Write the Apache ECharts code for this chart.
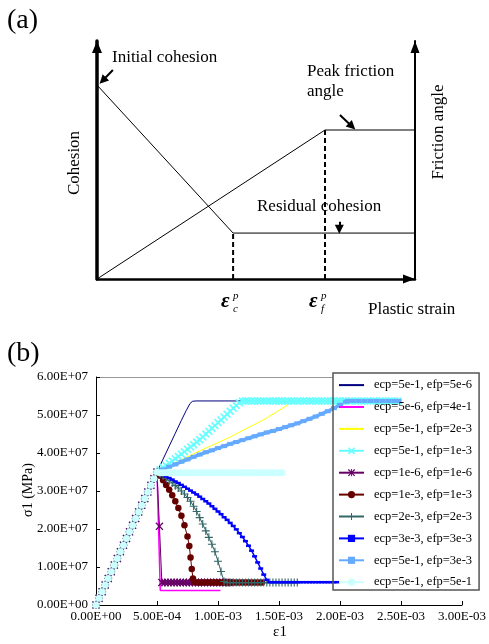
<!DOCTYPE html>
<html><head><meta charset="utf-8">
<script src="https://cdn.jsdelivr.net/npm/echarts/dist/echarts.min.js"></script>
<style>html,body{margin:0;padding:0;background:#fff}#c{width:489px;height:644px}</style>
</head><body><div id="c"></div>
<script>
// ---------- Panel (a): schematic (normalised units) ----------
const schemeCohesion = [[0,0.815],[0.428,0.193],[1,0.193]];
const schemeFriction = [[0,0],[0.717,0.626],[1,0.626]];
const schemeDashC = [[0.428,0],[0.428,0.193]];
const schemeDashF = [[0.717,0],[0.717,0.626]];
const schemeArrows = [[[0.05,0.878],[0.018,0.834]],[[0.764,0.689],[0.802,0.641]],[[0.762,0.241],[0.762,0.209]]];

// ---------- Panel (b): strain in 1e-3, stress in 1e7 ----------
const STRAIN_UNIT = 1e-3, STRESS_UNIT = 1e7;
const xTicks = {min:0, max:3, step:0.5};
const yTicks = {min:0, max:6, step:1};
const seriesNames = ['ecp=5e-1, efp=5e-6','ecp=5e-6, efp=4e-1','ecp=5e-1, efp=2e-3','ecp=5e-1, efp=1e-3','ecp=1e-6, efp=1e-6','ecp=1e-3, efp=1e-3','ecp=2e-3, efp=2e-3','ecp=3e-3, efp=3e-3','ecp=5e-1, efp=3e-3','ecp=5e-1, efp=5e-1'];
const elasticBranch = [[0,0],[0.025,0.175],[0.05,0.35],[0.075,0.525],[0.1,0.7],[0.125,0.875],[0.15,1.05],[0.175,1.225],[0.2,1.4],[0.225,1.575],[0.25,1.75],[0.275,1.925],[0.3,2.1],[0.325,2.275],[0.35,2.45],[0.375,2.625],[0.4,2.8],[0.425,2.975],[0.45,3.15],[0.475,3.325],[0.5,3.5]];
const PEAK = 5.37, RESIDUAL = 0.59, RESIDUAL_BLUE = 0.6, PLATEAU_510 = 3.48;

const s1Post = [[0.55,3.84],[0.6,4.18],[0.65,4.52],[0.7,4.86],[0.74,5.12],[0.77,5.3],[0.79,5.36],[0.82,5.37],[1.2,5.37]];
const s2Post = [[0.527,0.38],[1.02,0.38]];
const s3Post = [[0.8,3.98],[1.1,4.42],[1.4,4.92],[1.6,5.32],[1.65,5.37],[2.47,5.37]];
const s4Rise = [[0.525,3.56],[0.55,3.62],[0.575,3.67],[0.6,3.73],[0.625,3.79],[0.65,3.85],[0.675,3.91],[0.7,3.97],[0.725,4.03],[0.75,4.1],[0.775,4.16],[0.8,4.22],[0.825,4.29],[0.85,4.35],[0.875,4.42],[0.9,4.5],[0.925,4.57],[0.95,4.65],[0.975,4.72],[1.0,4.8],[1.025,4.87],[1.05,4.95],[1.075,5.02],[1.1,5.1],[1.125,5.18],[1.15,5.25],[1.175,5.32],[1.2,5.37]];
const s4PlateauStrain = [1.225,1.25,1.275,1.3,1.325,1.35,1.375,1.4,1.425,1.45,1.475,1.5,1.525,1.55,1.575,1.6,1.625,1.65,1.675,1.7,1.725,1.75,1.775,1.8,1.825,1.85,1.875,1.9,1.925,1.95,1.975,2.0,2.025,2.05,2.075,2.1,2.125,2.15,2.175,2.2,2.225,2.25,2.275,2.3,2.325,2.35,2.375,2.4,2.425,2.45,2.475];
const s5Drop = [[0.52,2.07],[0.54,0.59]];
const s5ResidualStrain = [0.565,0.59,0.615,0.64,0.665,0.69,0.715,0.74,0.765,0.79,0.815,0.84,0.865,0.89,0.915,0.94,0.965,0.99,1.015,1.04,1.065,1.09];
const s6Drop = [[0.525,3.4],[0.55,3.28],[0.575,3.16],[0.6,3.03],[0.625,2.89],[0.65,2.73],[0.675,2.55],[0.7,2.35],[0.725,2.1],[0.75,1.8],[0.765,1.55],[0.775,1.25],[0.785,0.95],[0.795,0.7],[0.81,0.6]];
const s6ResidualStrain = [0.835,0.86,0.885,0.91,0.935,0.96,0.985,1.01,1.035,1.06,1.085,1.11,1.135,1.16,1.185,1.21,1.235,1.26,1.285,1.31,1.335,1.36];
const s7Drop = [[0.525,3.45],[0.55,3.39],[0.575,3.33],[0.6,3.27],[0.625,3.21],[0.65,3.14],[0.675,3.08],[0.7,3.0],[0.725,2.92],[0.75,2.83],[0.775,2.73],[0.8,2.6],[0.825,2.46],[0.85,2.3],[0.875,2.13],[0.9,1.95],[0.925,1.78],[0.95,1.6],[0.975,1.4],[1.0,1.15],[1.025,0.88],[1.05,0.62]];
const s7ResidualStrain = [1.075,1.1,1.125,1.15,1.175,1.2,1.225,1.25,1.275,1.3,1.325,1.35,1.375,1.4,1.425,1.45,1.475,1.5,1.525,1.55,1.575,1.6,1.625,1.65];
const s8Drop = [[0.525,3.46],[0.55,3.42],[0.575,3.38],[0.6,3.34],[0.625,3.3],[0.65,3.25],[0.675,3.21],[0.7,3.16],[0.725,3.11],[0.75,3.06],[0.775,3.01],[0.8,2.96],[0.825,2.91],[0.85,2.85],[0.875,2.79],[0.9,2.73],[0.925,2.67],[0.95,2.6],[0.975,2.53],[1.0,2.46],[1.025,2.39],[1.05,2.31],[1.075,2.24],[1.1,2.16],[1.125,2.08],[1.15,1.99],[1.175,1.89],[1.2,1.79],[1.225,1.68],[1.25,1.56],[1.275,1.43],[1.3,1.28],[1.325,1.12],[1.35,0.96],[1.375,0.8],[1.4,0.66],[1.425,0.6]];
const s8ResidualStrain = [1.45,1.475,1.5,1.525,1.55,1.575,1.6,1.625,1.65,1.675,1.7,1.725,1.75,1.775,1.8,1.825,1.85,1.875,1.9,1.925,1.95,1.975];
const s9Rise = [[0.55,3.57],[0.6,3.64],[0.65,3.7],[0.7,3.77],[0.75,3.83],[0.8,3.9],[0.85,3.96],[0.9,4.02],[0.95,4.07],[1.0,4.13],[1.05,4.18],[1.1,4.24],[1.15,4.29],[1.2,4.34],[1.25,4.39],[1.3,4.44],[1.35,4.49],[1.4,4.54],[1.45,4.58],[1.5,4.63],[1.55,4.68],[1.6,4.73],[1.65,4.78],[1.7,4.84],[1.75,4.9],[1.8,4.96],[1.85,5.03],[1.9,5.1],[1.95,5.18],[2.0,5.27],[2.05,5.35],[2.07,5.37]];
const s9PlateauStrain = [2.1,2.15,2.2,2.25,2.3,2.35,2.4,2.45,2.48];
const s10PlateauStrain = [0.525,0.55,0.575,0.6,0.625,0.65,0.675,0.7,0.725,0.75,0.775,0.8,0.825,0.85,0.875,0.9,0.925,0.95,0.975,1.0,1.025,1.05,1.075,1.1,1.125,1.15,1.175,1.2,1.225,1.25,1.275,1.3,1.325,1.35,1.375,1.4,1.425,1.45,1.475,1.5,1.525];

const flat = (xs, y) => xs.map(x => [x, y]);
const curves = [
  elasticBranch.concat(s1Post),
  elasticBranch.concat(s2Post),
  elasticBranch.concat(s3Post),
  elasticBranch.concat(s4Rise, flat(s4PlateauStrain, PEAK)),
  elasticBranch.concat(s5Drop, flat(s5ResidualStrain, RESIDUAL)),
  elasticBranch.concat(s6Drop, flat(s6ResidualStrain, RESIDUAL)),
  elasticBranch.concat(s7Drop, flat(s7ResidualStrain, RESIDUAL)),
  elasticBranch.concat(s8Drop, flat(s8ResidualStrain, RESIDUAL_BLUE)),
  elasticBranch.concat(s9Rise, flat(s9PlateauStrain, PEAK)),
  elasticBranch.concat(flat(s10PlateauStrain, PLATEAU_510))
];

const SERIF = '"Liberation Serif","Times New Roman",serif';
const X_PATH = 'path://M0,1.5 L1.5,0 L5,3.5 L8.5,0 L10,1.5 L6.5,5 L10,8.5 L8.5,10 L5,6.5 L1.5,10 L0,8.5 L3.5,5 Z';
const STAR_PATH = 'path://M0,1.2 L1.2,0 L5,3.8 L8.8,0 L10,1.2 L6.2,5 L10,8.8 L8.8,10 L5,6.2 L1.2,10 L0,8.8 L3.8,5 Z M4.4,0 L5.6,0 L5.6,10 L4.4,10 Z';
const PLUS_PATH = 'path://M4.3,0 L5.7,0 L5.7,4.3 L10,4.3 L10,5.7 L5.7,5.7 L5.7,10 L4.3,10 L4.3,5.7 L0,5.7 L0,4.3 L4.3,4.3 Z';
const styles = [
  {color:'#000080', width:1, symbol:'none'},
  {color:'#ff00ff', width:1.5, symbol:'none'},
  {color:'#ffff00', width:1, symbol:'none'},
  {color:'#66ffff', width:1, symbol:X_PATH, size:8},
  {color:'#660066', width:1, symbol:STAR_PATH, size:8},
  {color:'#660000', width:1, symbol:'circle', size:6.5},
  {color:'#336666', width:1, symbol:PLUS_PATH, size:8},
  {color:'#0000ff', width:1.5, symbol:'rect', size:[5,2.5]},
  {color:'#66aaff', width:3.5, symbol:'rect', size:[6,4]},
  {color:'#ccffff', width:1, symbol:'circle', size:7}
];

function fmtE(v){
  if (Math.abs(v) < 1e-30) return '0.00E+00';
  let e = Math.floor(Math.log10(Math.abs(v)) + 1e-9);
  let m = v / Math.pow(10, e);
  if (Math.abs(m) >= 9.995) { m /= 10; e += 1; }
  return m.toFixed(2) + 'E' + (e < 0 ? '-' : '+') + String(Math.abs(e)).padStart(2, '0');
}

const plainAxis = (extra) => Object.assign({type:'value', min:0, max:1, axisTick:{show:false}, axisLabel:{show:false}, splitLine:{show:false}}, extra);

const series = [
  {type:'line', xAxisIndex:0, yAxisIndex:0, data:schemeCohesion, symbol:'none', lineStyle:{color:'#000', width:1}, silent:true,
   markLine:{silent:true, symbol:['none','triangle'], symbolSize:9, label:{show:false}, lineStyle:{color:'#000', width:2, type:'solid'},
     data: schemeArrows.map(a => [{coord:a[0]}, {coord:a[1]}])}},
  {type:'line', xAxisIndex:0, yAxisIndex:0, data:schemeFriction, symbol:'none', lineStyle:{color:'#000', width:1}, silent:true},
  {type:'line', xAxisIndex:0, yAxisIndex:0, data:schemeDashC, symbol:'none', lineStyle:{color:'#000', width:2, type:[5,3]}, silent:true},
  {type:'line', xAxisIndex:0, yAxisIndex:0, data:schemeDashF, symbol:'none', lineStyle:{color:'#000', width:2, type:[5,3]}, silent:true}
];
curves.forEach((d, i) => {
  const s = styles[i];
  series.push({type:'line', name:seriesNames[i], xAxisIndex:1, yAxisIndex:2, data:d,
    symbol:s.symbol, symbolSize:s.size || 4, showSymbol:s.symbol !== 'none',
    itemStyle:{color:s.color}, lineStyle:{color:s.color, width:s.width}, silent:true});
});

const legendData = seriesNames.map((n, i) => styles[i].symbol === 'none'
  ? {name:n, itemStyle:{opacity:0}}
  : {name:n});

const txt = (x, y, text, size, extra) => Object.assign({type:'text', x, y, style:Object.assign({text, font: size + 'px ' + SERIF, fill:'#000', align:'left', verticalAlign:'middle'}, (extra||{}).style||{})}, extra && extra.rotation ? {rotation:extra.rotation} : {});

const option = {
  animation:false,
  backgroundColor:'#fff',
  grid:[
    {left:97, top:41, width:318, height:238},
    {left:96, top:377, right:23, bottom:39}
  ],
  xAxis:[
    plainAxis({gridIndex:0, axisLine:{onZero:false, lineStyle:{color:'#000', width:2.5}, symbol:['none','triangle'], symbolSize:[9,12], symbolOffset:[0,-6]}}),
    {type:'value', gridIndex:1, min:xTicks.min, max:xTicks.max, interval:xTicks.step,
     axisLine:{onZero:false, lineStyle:{color:'#000', width:1}}, axisTick:{inside:true, length:4, lineStyle:{color:'#000'}},
     splitLine:{show:false}, axisLabel:{margin:5, color:'#000', fontFamily:SERIF, fontSize:13, formatter:v => fmtE(v * STRAIN_UNIT)}}
  ],
  yAxis:[
    plainAxis({gridIndex:0, position:'left', axisLine:{onZero:false, lineStyle:{color:'#000', width:3.5}, symbol:['none','triangle'], symbolSize:[10,12], symbolOffset:[0,-6]}}),
    plainAxis({gridIndex:0, position:'right', axisLine:{onZero:false, lineStyle:{color:'#000', width:2}, symbol:['none','triangle'], symbolSize:[9,12], symbolOffset:[0,-6]}}),
    {type:'value', gridIndex:1, min:yTicks.min, max:yTicks.max, interval:yTicks.step,
     axisLine:{show:true, onZero:false, lineStyle:{color:'#000', width:1}}, axisTick:{show:true, inside:true, length:4, lineStyle:{color:'#000'}},
     splitLine:{show:false}, axisLabel:{margin:8, color:'#000', fontFamily:SERIF, fontSize:13, formatter:v => fmtE(v * STRESS_UNIT)}}
  ],
  legend:{orient:'vertical', left:333, top:373, itemWidth:25, itemHeight:9, itemGap:8.9, padding:[5.6,7,1.3,5],
    borderColor:'#555', borderWidth:1.5, backgroundColor:'transparent', selectedMode:false, data:legendData,
    textStyle:{fontFamily:SERIF, fontSize:12.5, color:'#000', padding:[0,0,0,5]}},
  graphic:[
    txt(7, 21, '(a)', 28),
    txt(112, 58, 'Initial cohesion', 17),
    txt(307, 72, 'Peak friction', 17),
    txt(307, 92, 'angle', 17),
    txt(257, 207, 'Residual cohesion', 17),
    txt(75, 163, 'Cohesion', 17, {rotation:Math.PI/2, style:{align:'center'}}),
    txt(439, 132, 'Friction angle', 17, {rotation:Math.PI/2, style:{align:'center'}}),
    txt(368, 310, 'Plastic strain', 17),
    {type:'text', x:221, y:302, style:{text:'ε', font:'italic bold 21px ' + SERIF, fill:'#000', verticalAlign:'middle'}},
    {type:'text', x:233, y:296, style:{text:'p', font:'italic 11px ' + SERIF, fill:'#000', verticalAlign:'middle'}},
    {type:'text', x:233, y:309, style:{text:'c', font:'italic 11px ' + SERIF, fill:'#000', verticalAlign:'middle'}},
    {type:'text', x:309, y:302, style:{text:'ε', font:'italic bold 21px ' + SERIF, fill:'#000', verticalAlign:'middle'}},
    {type:'text', x:321, y:296, style:{text:'p', font:'italic 11px ' + SERIF, fill:'#000', verticalAlign:'middle'}},
    {type:'text', x:321, y:309, style:{text:'f', font:'italic 11px ' + SERIF, fill:'#000', verticalAlign:'middle'}},
    txt(7, 354, '(b)', 28),
    txt(28, 490, 'σ1 (MPa)', 14, {rotation:Math.PI/2, style:{align:'center'}}),
    txt(280, 632, 'ε1', 15, {style:{align:'center'}}),
    {type:'line', shape:{x1:96, y1:377.5, x2:333, y2:377.5}, style:{stroke:'#999', lineWidth:1}}
  ],
  series
};
const chart = echarts.init(document.getElementById('c'), null, {renderer:'canvas'});
chart.setOption(option);
</script></body></html>
